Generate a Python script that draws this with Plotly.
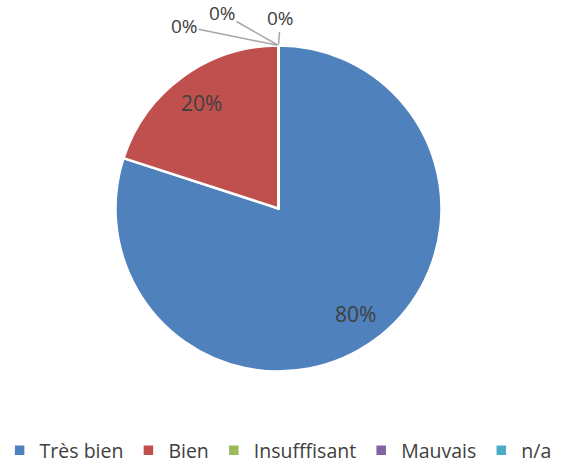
import math
import plotly.graph_objects as go

labels = ["Très bien", "Bien", "Insufffisant", "Mauvais", "n/a"]
values = [80, 20, 0, 0, 0]
colors = ["#4F81BD", "#C0504D", "#9BBB59", "#8064A2", "#4BACC6"]

W, H = 563, 463
cx, cy, r = 278.5, 208.5, 163
FONT = "Open Sans, Lato, sans-serif"
TXT = "#404040"

total = sum(values)
texts = [f"{v / total:.0%}" for v in values]

fig = go.Figure()
fig.add_trace(go.Pie(
    labels=labels,
    values=values,
    textinfo="none",
    sort=False,
    direction="clockwise",
    rotation=0,
    marker=dict(colors=colors, line=dict(color="white", width=2.5)),
    domain=dict(x=[(cx - r) / W, (cx + r) / W], y=[(H - cy - r) / H, (H - cy + r) / H]),
    hoverinfo="label+percent",
))

def to_paper(px, py):
    return px / W, (H - py) / H

# labels for non-zero slices at 0.8 r along the slice bisector
cum = 0
zero_offsets = [(-94, -19), (-56, -32), (2, -27)]
zi = 0
for lab, v, t in zip(labels, values, texts):
    if v > 0:
        mid = (cum + v / 2) / total * 2 * math.pi
        px = cx + 0.8 * r * math.sin(mid)
        py = cy - 0.8 * r * math.cos(mid)
        x, y = to_paper(px, py)
        fig.add_annotation(x=x, y=y, xref="paper", yref="paper", text=t,
                           xanchor="center", yanchor="middle",
                           showarrow=False,
                           font=dict(family=FONT, size=21, color=TXT))
    else:
        ang = cum / total * 2 * math.pi
        px = cx + r * math.sin(ang)
        py = cy - r * math.cos(ang)
        x, y = to_paper(px, py)
        ax, ay = zero_offsets[zi]
        zi += 1
        fig.add_annotation(
            x=x, y=y, xref="paper", yref="paper",
            text=t, showarrow=True, arrowhead=0, arrowwidth=1.5,
            arrowcolor="#A6A6A6", ax=ax, ay=ay, standoff=1, borderpad=0,
            font=dict(family=FONT, size=19, color=TXT),
        )
    cum += v

fig.update_layout(
    width=W, height=H,
    margin=dict(l=0, r=0, t=0, b=0, autoexpand=False),
    paper_bgcolor="white",
    showlegend=True,
    legend=dict(
        orientation="h", x=0.494, xanchor="center",
        y=(H - 450.5) / H, yanchor="middle",
        font=dict(family=FONT, size=19.5, color=TXT),
        itemwidth=30,
    ),
)

fig.write_html("out.html", config={"displayModeBar": False},
               post_script="document.body.style.margin='0';")
